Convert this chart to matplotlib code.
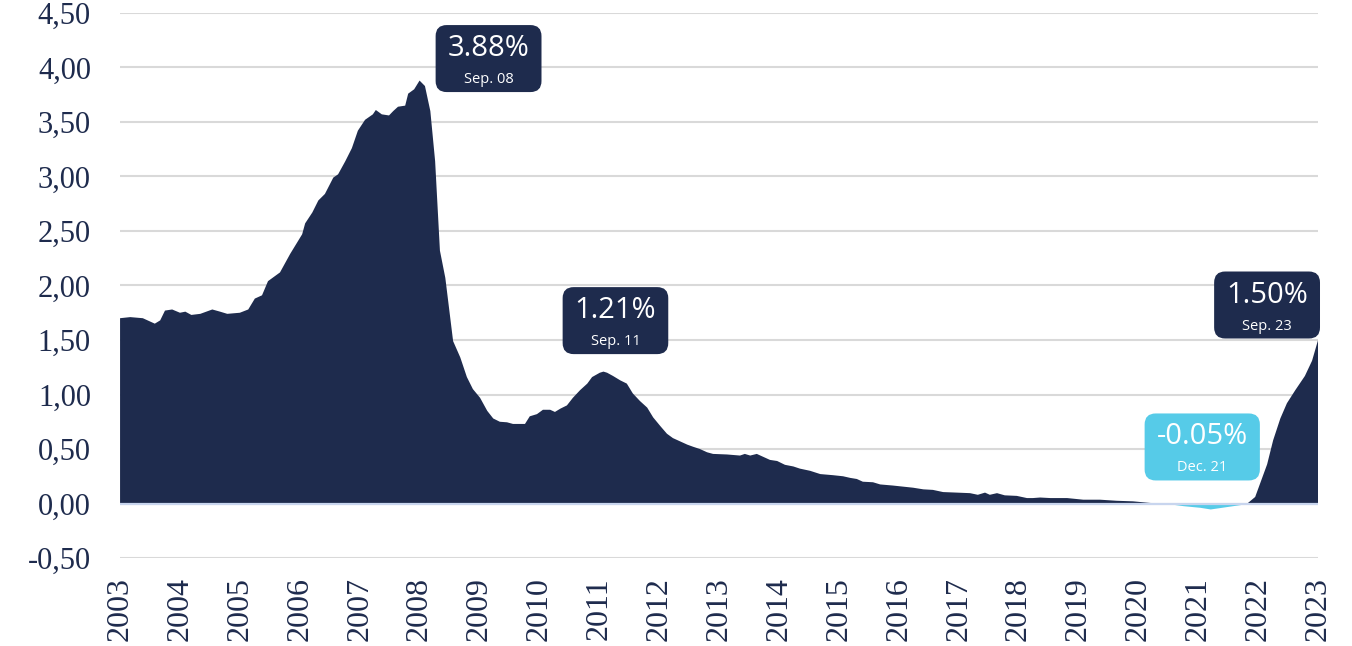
import numpy as np
from matplotlib import pyplot as plt
from matplotlib.patches import FancyBboxPatch

NAVY = '#1e2b4d'
SKY = '#56cbe8'

# decimal year, rate in %
years = np.array([
    2003.00, 2003.17, 2003.38, 2003.58, 2003.67, 2003.75, 2003.87, 2004.00,
    2004.09, 2004.19, 2004.34, 2004.54, 2004.67, 2004.79, 2005.00, 2005.14,
    2005.25, 2005.37, 2005.47, 2005.67, 2005.84, 2006.04, 2006.09, 2006.21,
    2006.31, 2006.42, 2006.56, 2006.64, 2006.76, 2006.87, 2006.97, 2007.09,
    2007.22, 2007.27, 2007.37, 2007.49, 2007.56, 2007.64, 2007.76, 2007.81,
    2007.91, 2008.00, 2008.09, 2008.18, 2008.26, 2008.34, 2008.43, 2008.56,
    2008.68, 2008.79, 2008.89, 2009.01, 2009.13, 2009.23, 2009.34, 2009.46,
    2009.56, 2009.76, 2009.84, 2009.96, 2010.06, 2010.18, 2010.26, 2010.35,
    2010.46, 2010.56, 2010.68, 2010.80, 2010.88, 2011.01, 2011.07, 2011.13,
    2011.23, 2011.35, 2011.46, 2011.56, 2011.68, 2011.80, 2011.90, 2012.02,
    2012.13, 2012.23, 2012.35, 2012.47, 2012.57, 2012.68, 2012.80, 2012.90,
    2013.13, 2013.35, 2013.43, 2013.52, 2013.63, 2013.73, 2013.85, 2013.97,
    2014.10, 2014.24, 2014.35, 2014.52, 2014.69, 2014.90, 2015.07, 2015.19,
    2015.30, 2015.40, 2015.57, 2015.69, 2015.90, 2016.07, 2016.24, 2016.41,
    2016.57, 2016.74, 2016.97, 2017.19, 2017.32, 2017.44, 2017.52, 2017.64,
    2017.77, 2017.97, 2018.14, 2018.24, 2018.36, 2018.53, 2018.81, 2019.08,
    2019.36, 2019.64, 2019.91, 2020.20, 2020.48, 2020.75, 2021.03, 2021.20,
    2021.45, 2021.70, 2021.83, 2021.95, 2022.03, 2022.15, 2022.25, 2022.37,
    2022.48, 2022.62, 2022.78, 2022.90, 2023.00,
])
rate = np.array([
    1.70, 1.71, 1.70, 1.65, 1.68, 1.77, 1.78, 1.75,
    1.76, 1.73, 1.74, 1.78, 1.76, 1.74, 1.75, 1.78,
    1.88, 1.91, 2.04, 2.12, 2.29, 2.47, 2.57, 2.67,
    2.78, 2.84, 2.99, 3.02, 3.14, 3.26, 3.42, 3.52,
    3.57, 3.61, 3.57, 3.56, 3.60, 3.64, 3.65, 3.76,
    3.80, 3.88, 3.83, 3.60, 3.14, 2.32, 2.07, 1.49,
    1.34, 1.16, 1.05, 0.97, 0.85, 0.78, 0.75, 0.745,
    0.73, 0.73, 0.80, 0.82, 0.86, 0.86, 0.84, 0.87,
    0.90, 0.97, 1.04, 1.10, 1.16, 1.20, 1.21, 1.20,
    1.17, 1.13, 1.10, 1.01, 0.94, 0.88, 0.79, 0.71,
    0.64, 0.60, 0.57, 0.54, 0.52, 0.50, 0.47, 0.455,
    0.45, 0.44, 0.455, 0.44, 0.455, 0.43, 0.40, 0.39,
    0.355, 0.34, 0.32, 0.30, 0.27, 0.26, 0.25, 0.235,
    0.225, 0.20, 0.195, 0.175, 0.165, 0.155, 0.145, 0.13,
    0.125, 0.105, 0.10, 0.095, 0.08, 0.10, 0.08, 0.095,
    0.075, 0.07, 0.05, 0.05, 0.055, 0.05, 0.05, 0.035,
    0.035, 0.025, 0.02, 0.005, 0.0, -0.02, -0.035, -0.05,
    -0.03, -0.01, 0.005, 0.06, 0.18, 0.36, 0.58, 0.78,
    0.92, 1.04, 1.17, 1.31, 1.50,
])

year_ticks = list(range(2003, 2024))
y_ticks = [-0.5, 0.0, 0.5, 1.0, 1.5, 2.0, 2.5, 3.0, 3.5, 4.0, 4.5]
y_labels = ['-0,50', '0,00', '0,50', '1,00', '1,50', '2,00', '2,50',
            '3,00', '3,50', '4,00', '4,50']

# highlighted points: (year, value, label, date, offset in px, colour)
callouts = [
    (2008.00, 3.88, '3.88%', 'Sep. 08', (69, 22), NAVY),
    (2011.07, 1.21, '1.21%', 'Sep. 11', (12, 51), NAVY),
    (2021.20, -0.05, '-0.05%', 'Dec. 21', (-8, 62), SKY),
    (2023.00, 1.50, '1.50%', 'Sep. 23', (-51, 35), NAVY),
]


def draw_callout(fig, ax, x, y, value, date, offset, color):
    renderer = fig.canvas.get_renderer()
    px, py = ax.transData.transform((x, y))
    cx, cy = px + offset[0], py + offset[1]
    big = fig.text(cx, cy + 10, value, transform=None, ha='center', va='center',
                   color='white', fontsize=21, family='Open Sans', zorder=6)
    fig.text(cx, cy - 21, date, transform=None, ha='center', va='center',
             color='white', fontsize=10.5, family='Open Sans', zorder=6)
    w = big.get_window_extent(renderer).width + 24
    h = 67
    box = FancyBboxPatch((cx - w / 2, cy - h / 2), w, h, transform=None,
                         boxstyle='round,pad=0,rounding_size=11',
                         facecolor=color, edgecolor='none', zorder=5)
    fig.patches.append(box)


fig = plt.figure(figsize=(13.52, 6.46), dpi=100)
ax = fig.add_axes([0.0888, 0.1362, 0.8861, 0.8437])

ax.fill_between(years, rate, 0, where=rate >= 0, interpolate=True,
                color=NAVY, lw=0, zorder=2)
ax.fill_between(years, rate, 0, where=rate <= 0, interpolate=True,
                color=SKY, lw=0, zorder=2)
ax.axhline(0, color='#c8d5ee', lw=1.6, zorder=3)

ax.set_xlim(2003, 2023)
ax.set_ylim(-0.5, 4.5)
ax.set_yticks(y_ticks)
ax.set_yticklabels(y_labels)
ax.set_xticks(year_ticks)
ax.set_xticklabels([str(y) for y in year_ticks], rotation=90)
for lbl in ax.get_xticklabels():
    lbl.set_family('Liberation Serif')
    lbl.set_fontsize(23)
    lbl.set_color(NAVY)
for lbl in ax.get_yticklabels():
    lbl.set_family('Liberation Serif')
    lbl.set_fontsize(22)
    lbl.set_color(NAVY)
ax.tick_params(axis='both', length=0)
ax.tick_params(axis='y', pad=21)
ax.tick_params(axis='x', pad=14)

ax.grid(axis='y', color='#d9d9d9', lw=1.5, zorder=0)
ax.set_axisbelow(True)
for s in ax.spines.values():
    s.set_visible(False)

for x, y, value, date, offset, color in callouts:
    draw_callout(fig, ax, x, y, value, date, offset, color)

fig.savefig('out.png', dpi=100)
